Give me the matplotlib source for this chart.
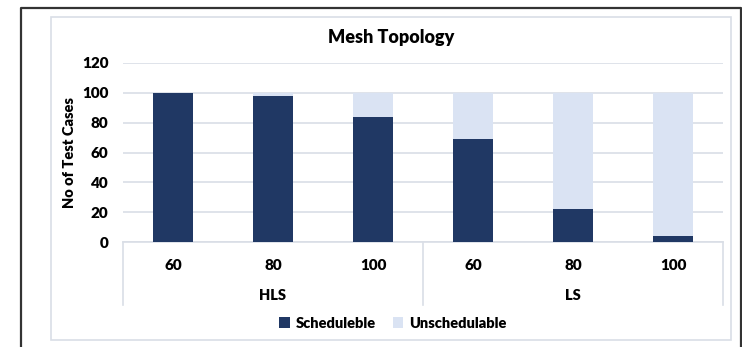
import matplotlib.pyplot as plt
import matplotlib.transforms as mtransforms
from matplotlib.patches import Rectangle
from matplotlib.lines import Line2D

# ----------------------------------------------------------------------
# DATA
# ----------------------------------------------------------------------

groups = ["HLS", "LS"]
loads = ["60", "80", "100"]
scheduleble = [100, 98, 84, 69, 22, 4]
unschedulable = [0, 2, 16, 31, 78, 96]
y_ticks = [0, 20, 40, 60, 80, 100, 120]

DARK = "#203864"
LIGHT = "#DAE3F3"
GRID = "#D9DEE6"

plt.rcParams['font.family'] = ['Lato', 'DejaVu Sans']
plt.rcParams['font.weight'] = 'bold'

W, H = 742, 347
fig = plt.figure(figsize=(W / 100, H / 100), dpi=100)


def fx(px):
    return px / W


def fy(py):
    return 1 - py / H


# outer black frame (no bottom edge) and light inner chart border
fig.add_artist(Line2D([fx(21), fx(21), fx(741), fx(741)],
                      [0, fy(8), fy(8), 0], color="#333333", lw=1.6,
                      transform=fig.transFigure))
fig.add_artist(Rectangle((fx(51), fy(340)), fx(731) - fx(51), fy(17) - fy(340),
                         transform=fig.transFigure, fill=False,
                         edgecolor=GRID, lw=1.2))

ax = fig.add_axes([fx(123), fy(242), fx(723) - fx(123), fy(63) - fy(242)])

x = list(range(len(scheduleble)))
ax.bar(x, scheduleble, width=0.4, color=DARK, zorder=3, label="Scheduleble")
ax.bar(x, unschedulable, width=0.4, bottom=scheduleble, color=LIGHT, zorder=3,
       label="Unschedulable")

ax.set_xlim(-0.5, len(x) - 0.5)
ax.set_ylim(0, 120)
ax.set_yticks(y_ticks)
ax.set_yticklabels([str(t) for t in y_ticks], fontsize=11, fontweight="heavy")
ax.tick_params(axis="y", length=0, pad=10.5)
ax.set_xticks([])
ax.yaxis.grid(True, color=GRID, lw=1.2, zorder=0)
for s in ["top", "right", "left"]:
    ax.spines[s].set_visible(False)
ax.spines["bottom"].set_color(GRID)
ax.spines["bottom"].set_linewidth(1.2)

ax.set_ylabel("No of Test Cases", fontsize=10.5, fontweight="heavy", labelpad=4)

# multi-level category axis
trans = mtransforms.blended_transform_factory(ax.transData, fig.transFigure)
for i, xi in enumerate(x):
    ax.text(xi, fy(265), loads[i % len(loads)], transform=trans, ha="center",
            va="center", fontsize=11, fontweight="heavy")
for g, name in enumerate(groups):
    center = g * len(loads) + (len(loads) - 1) / 2
    ax.text(center, fy(295), name, transform=trans, ha="center", va="center",
            fontsize=10.5, fontweight="heavy")
for b in [-0.5, 2.5, 5.5]:
    ax.add_artist(Line2D([b, b], [fy(242), fy(305)], transform=trans,
                         color=GRID, lw=1.2, clip_on=False))

fig.text(fx(391), fy(38), "Mesh Topology", ha="center", va="center",
         fontsize=13, fontweight="heavy")

fig.legend(loc="center", bbox_to_anchor=(fx(393), fy(323)), ncol=2,
           frameon=False, handlelength=0.7, handleheight=0.7,
           handletextpad=0.4, columnspacing=1.2,
           prop={"size": 10.5, "weight": "heavy"})

plt.savefig("out.png", dpi=100)
plt.close()
